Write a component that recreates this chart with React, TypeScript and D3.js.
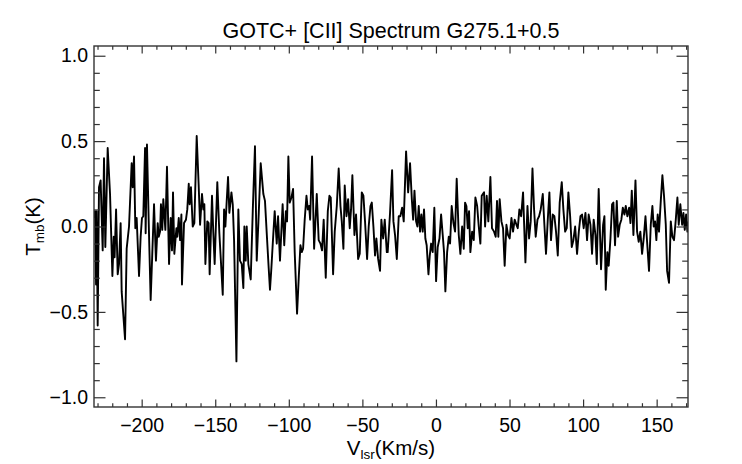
import React, { useEffect, useRef } from "react";
import * as d3 from "d3";

// channel velocities (km/s) and main-beam temperatures (K)
const velocity = [
  -232.4, -231.7, -231.0, -230.6, -229.9, -229.0, -227.9, -226.5, -225.6, -224.7,
  -223.1, -221.5, -219.9, -219.0, -218.4, -217.4, -216.3, -215.4, -214.3, -213.6,
  -211.3, -210.2, -208.6, -206.8, -206.1, -205.2, -204.3, -203.4, -201.8, -200.7,
  -199.8, -198.9, -197.7, -197.3, -196.4, -195.2, -193.9, -191.6, -190.3, -189.1,
  -188.4, -187.5, -186.9, -186.0, -185.3, -183.9, -182.8, -181.4, -180.3, -179.4,
  -178.7, -177.8, -176.4, -175.8, -174.8, -173.9, -173.0, -172.6, -171.2, -169.9,
  -169.0, -168.0, -167.4, -166.5, -165.3, -164.2, -162.6, -161.3, -160.3, -159.0,
  -158.1, -157.4, -156.7, -155.4, -154.5, -153.8, -152.2, -151.3, -150.4, -148.6,
  -147.2, -146.3, -144.9, -144.0, -143.1, -142.2, -141.3, -140.4, -139.0, -138.1,
  -137.2, -135.6, -134.3, -133.2, -132.0, -130.9, -130.2, -129.3, -128.6, -127.5,
  -125.9, -124.5, -123.0, -121.8, -120.7, -119.1, -117.3, -116.2, -115.0, -113.7,
  -112.8, -111.9, -110.5, -109.6, -108.2, -107.3, -106.0, -104.2, -103.1, -102.0,
  -101.2, -100.3, -99.4, -98.2, -97.1, -96.0, -94.4, -93.2, -92.1, -91.2,
  -90.3, -89.2, -88.0, -87.1, -86.2, -85.5, -84.2, -82.8, -81.0, -79.7,
  -78.5, -77.4, -76.3, -74.9, -73.5, -72.4, -71.5, -69.9, -68.8, -67.4,
  -66.1, -64.9, -64.0, -62.9, -62.0, -60.8, -59.7, -58.6, -57.7, -56.8,
  -55.4, -54.3, -52.9, -51.8, -50.4, -49.3, -48.2, -46.8, -45.7, -44.5,
  -43.6, -42.5, -41.4, -40.5, -39.3, -38.0, -37.1, -35.9, -34.8, -33.4,
  -32.8, -31.2, -29.8, -28.9, -27.8, -26.6, -25.3, -24.2, -23.0, -21.9,
  -20.3, -18.9, -17.6, -16.4, -15.5, -14.6, -13.5, -12.6, -11.7, -10.8,
  -9.9, -9.0, -8.1, -7.2, -6.3, -5.1, -4.2, -3.3, -2.2, -1.1,
  0.1, 1.2, 2.4, 3.5, 4.6, 5.5, 6.4, 7.6, 8.7, 9.6,
  10.7, 11.9, 13.0, 14.1, 15.5, 16.6, 17.8, 18.9, 19.8, 20.7,
  21.6, 22.5, 23.4, 24.6, 25.7, 26.8, 28.0, 29.1, 30.2, 31.1,
  32.7, 33.4, 34.5, 35.6, 37.0, 38.1, 39.5, 40.6, 41.5, 42.4,
  43.3, 44.5, 45.6, 46.7, 47.9, 49.0, 50.1, 51.3, 52.4, 53.5,
  54.7, 55.6, 56.7, 57.9, 59.2, 60.8, 62.2, 63.3, 64.4, 65.6,
  66.7, 67.8, 69.0, 70.1, 71.2, 72.6, 73.7, 74.8, 76.0, 77.1,
  78.2, 79.4, 80.5, 81.6, 82.8, 84.1, 85.5, 86.6, 87.8, 88.9,
  90.0, 91.2, 92.3, 93.4, 94.6, 95.9, 97.1, 98.2,
  99.3, 100.4, 101.6, 102.7, 103.8, 105.0, 106.1, 107.2, 108.4, 109.3,
  110.6, 112.2, 113.6, 114.5, 115.4, 116.5, 117.4, 118.6, 119.7, 120.6,
  121.7, 122.9, 123.8, 124.9, 126.0, 127.0, 128.1, 129.0, 130.1, 131.3,
  132.2, 133.1, 134.2, 135.6, 136.7, 137.8, 138.9, 140.1, 141.2, 142.4,
  143.5, 144.8, 146.0, 147.1, 148.0, 148.9, 149.8, 150.7, 151.6, 152.8,
  153.9, 155.0, 156.2, 157.1, 158.4, 159.6, 160.7, 161.8, 163.0, 164.1,
  165.0, 166.1, 167.3, 168.2, 169.1, 170.0, 170.9, 171.3,
];

const tmb = [
  0.05, 0.09, -0.34, 0.09, -0.58, 0.23, 0.27, -0.14, 0.4, -0.12,
  0.46, 0.19, -0.29, -0.06, -0.18, 0.1, -0.28, -0.22, 0.02, -0.38,
  -0.66, -0.13, 0.0, 0.37, 0.23, 0.41, -0.01, 0.05, -0.29, -0.06,
  0.05, 0.06, 0.46, -0.04, 0.48, 0.02, -0.43, 0.13, -0.2, 0.02,
  -0.06, -0.03, 0.13, -0.02, 0.16, -0.02, 0.35, -0.22, 0.05, -0.14,
  0.2, -0.16, -0.01, -0.06, 0.05, -0.08, 0.07, -0.34, 0.02, 0.04,
  0.1, 0.25, 0.13, 0.23, 0.0, 0.02, 0.53, 0.25, 0.01, 0.19,
  0.1, 0.13, -0.22, 0.03, 0.02, -0.28, 0.18, -0.04, -0.22, 0.26,
  -0.04, -0.18, -0.4, 0.1, 0.0, 0.15, 0.29, 0.08, 0.2, 0.13,
  -0.08, -0.79, 0.1, -0.2, -0.22, -0.36, 0.0, -0.2, 0.0, -0.22,
  -0.31, 0.09, 0.47, -0.2, 0.02, 0.37, 0.19, 0.15, -0.04, -0.24,
  -0.37, -0.25, -0.04, 0.09, -0.1, 0.06, -0.2, 0.13, -0.11, 0.09,
  0.03, 0.41, 0.14, 0.17, 0.22, -0.15, -0.51, -0.29, -0.11, -0.15,
  -0.13, 0.04, 0.18, 0.1, 0.12, 0.04, 0.41, -0.13, 0.19, -0.08,
  -0.1, -0.14, 0.04, -0.3, 0.09, 0.18, 0.17, -0.28, -0.03, 0.12,
  0.34, 0.12, 0.03, -0.13, 0.24, 0.06, 0.16, -0.01, 0.1, 0.3,
  -0.05, 0.07, -0.19, -0.16, 0.2, 0.18, 0.03, -0.19, 0.0, 0.12,
  0.14, 0.0, -0.17, -0.07, -0.19, -0.26, 0.04, -0.07, 0.04, -0.15,
  -0.15, 0.08, 0.33, 0.03, -0.05, -0.19, 0.06, 0.06, 0.11, 0.03,
  0.44, 0.2, 0.37, 0.16, 0.04, 0.21, 0.03, 0.0, 0.12, -0.03,
  0.07, -0.03, 0.1, -0.07, -0.11, -0.28, -0.17, -0.1, -0.15, 0.11,
  -0.32, -0.12, -0.07, 0.07, -0.05, -0.15, -0.38, -0.15, -0.06, -0.1,
  0.12, 0.02, -0.03, 0.28, -0.05, -0.16, 0.0, -0.13, 0.14, 0.12,
  -0.01, 0.09, -0.15, -0.03, -0.08, 0.17, 0.12, 0.0, -0.1, 0.18,
  0.2, 0.0, 0.18, 0.03, 0.29, -0.01, -0.03, -0.06, 0.15, -0.06,
  0.16, 0.03, -0.01, -0.23, 0.01, -0.05, -0.07, 0.05, -0.03, 0.04,
  0.01, -0.01, 0.1, 0.06, 0.2, -0.21, 0.12, -0.07, 0.03, 0.34,
  0.1, -0.06, 0.04, 0.06, 0.1, 0.19, 0.01, -0.16, 0.04, 0.2,
  -0.08, 0.07, 0.06, -0.03, -0.17, 0.14, 0.26, 0.1, -0.03, -0.01,
  0.2, 0.06, -0.12, -0.08, 0.0, -0.16, -0.03, 0.06,
  0.07, -0.01, 0.08, -0.08, 0.07, 0.01, -0.16, 0.04, -0.05, -0.22,
  0.22, -0.25, 0.01, 0.06, -0.37, -0.15, -0.23, -0.07, 0.13, 0.14,
  -0.11, 0.15, -0.06, 0.01, 0.04, 0.11, 0.07, 0.12, 0.06, 0.11,
  0.02, 0.21, -0.05, 0.27, -0.03, -0.09, -0.03, -0.16, -0.07, 0.06,
  -0.09, -0.26, 0.01, 0.12, 0.0, 0.03, -0.08, 0.07, -0.03, 0.15,
  0.3, 0.18, 0.01, -0.26, -0.33, 0.03, -0.06, -0.08, 0.04, 0.17,
  0.01, 0.13, 0.01, 0.08, -0.02, 0.07, -0.03, 0.03,
];

const xMajorTicks = [-200, -150, -100, -50, 0, 50, 100, 150];
const yMajorTicks = [-1.0, -0.5, 0.0, 0.5, 1.0];
const title = "GOTC+ [CII] Spectrum G275.1+0.5";

const W = 742;
const H = 464;
const margin = { top: 46, right: 54, bottom: 57, left: 94 };
const font = "'Liberation Sans', Arial, Helvetica, sans-serif";
const axisColor = "#333";

export default function App() {
  const ref = useRef<SVGSVGElement>(null);

  useEffect(() => {
    const svg = d3.select(ref.current!);
    svg.selectAll("*").remove();

    const x = d3
      .scaleLinear()
      .domain([-232.4, 171.3])
      .range([margin.left, W - margin.right]);
    const y = d3
      .scaleLinear()
      .domain([-1.057, 1.057])
      .range([H - margin.bottom, margin.top]);

    const xMinor = d3.range(-230, 171, 10).filter((v) => v % 50 !== 0);
    const yMinor = d3.range(-10, 11).map((i) => i / 10).filter((v) => Math.round(v * 10) % 5 !== 0);

    const styleAxis = (g: any) => {
      g.select(".domain").remove();
      g.selectAll(".tick line").attr("stroke", axisColor).attr("stroke-width", 1.2);
      g.selectAll(".tick text")
        .attr("font-size", 19.5)
        .attr("font-family", font)
        .attr("fill", "#000");
    };

    const bottom = H - margin.bottom;
    const top = margin.top;
    const left = margin.left;
    const right = W - margin.right;

    // spectrum
    svg
      .append("clipPath")
      .attr("id", "plot-clip")
      .append("rect")
      .attr("x", left)
      .attr("y", top)
      .attr("width", right - left)
      .attr("height", bottom - top);

    const line = d3
      .line<number>()
      .x((_, i) => x(velocity[i]))
      .y((d) => y(d));

    svg
      .append("path")
      .datum(tmb)
      .attr("clip-path", "url(#plot-clip)")
      .attr("fill", "none")
      .attr("stroke", "#000")
      .attr("stroke-width", 1.9)
      .attr("stroke-linejoin", "round")
      .attr("d", line);

    // x axes (bottom with labels, top without), ticks point inward
    svg
      .append("g")
      .attr("transform", `translate(0,${bottom})`)
      .call(d3.axisBottom(x).tickValues(xMajorTicks).tickSize(-7.5).tickPadding(11).tickFormat(d3.format("d")))
      .call(styleAxis);
    svg
      .append("g")
      .attr("transform", `translate(0,${bottom})`)
      .call(d3.axisBottom(x).tickValues(xMinor).tickSize(-3.8).tickFormat(() => ""))
      .call(styleAxis);
    svg
      .append("g")
      .attr("transform", `translate(0,${top})`)
      .call(d3.axisTop(x).tickValues(xMajorTicks).tickSize(-7.5).tickFormat(() => ""))
      .call(styleAxis);
    svg
      .append("g")
      .attr("transform", `translate(0,${top})`)
      .call(d3.axisTop(x).tickValues(xMinor).tickSize(-3.8).tickFormat(() => ""))
      .call(styleAxis);

    // y axes
    svg
      .append("g")
      .attr("transform", `translate(${left},0)`)
      .call(d3.axisLeft(y).tickValues(yMajorTicks).tickSize(-11.5).tickPadding(6).tickFormat(d3.format(".1f")))
      .call(styleAxis);
    svg
      .append("g")
      .attr("transform", `translate(${left},0)`)
      .call(d3.axisLeft(y).tickValues(yMinor).tickSize(-5.8).tickFormat(() => ""))
      .call(styleAxis);
    svg
      .append("g")
      .attr("transform", `translate(${right},0)`)
      .call(d3.axisRight(y).tickValues(yMajorTicks).tickSize(-11.5).tickFormat(() => ""))
      .call(styleAxis);
    svg
      .append("g")
      .attr("transform", `translate(${right},0)`)
      .call(d3.axisRight(y).tickValues(yMinor).tickSize(-5.8).tickFormat(() => ""))
      .call(styleAxis);

    // frame
    svg
      .append("rect")
      .attr("x", left)
      .attr("y", top)
      .attr("width", right - left)
      .attr("height", bottom - top)
      .attr("fill", "none")
      .attr("stroke", axisColor)
      .attr("stroke-width", 1.4);

    // title
    svg
      .append("text")
      .attr("x", (left + right) / 2)
      .attr("y", 38)
      .attr("text-anchor", "middle")
      .attr("font-family", font)
      .attr("font-size", 21.5)
      .text(title);

    // x label
    const xl = svg
      .append("text")
      .attr("x", (left + right) / 2)
      .attr("y", 455)
      .attr("text-anchor", "middle")
      .attr("font-family", font)
      .attr("font-size", 20.5);
    xl.append("tspan").text("V");
    xl.append("tspan").attr("font-size", 13.5).attr("dy", 4).text("lsr");
    xl.append("tspan").attr("dy", -4).text("(Km/s)");

    // y label
    const yl = svg
      .append("text")
      .attr("transform", `translate(40,${(top + bottom) / 2}) rotate(-90)`)
      .attr("text-anchor", "middle")
      .attr("font-family", font)
      .attr("font-size", 20.5);
    yl.append("tspan").text("T");
    yl.append("tspan").attr("font-size", 13.5).attr("dy", 4).text("mb");
    yl.append("tspan").attr("dy", -4).text("(K)");
  }, []);

  return (
    <svg
      ref={ref}
      width={W}
      height={H}
      style={{ position: "absolute", left: 0, top: 0, background: "#fff" }}
    />
  );
}
